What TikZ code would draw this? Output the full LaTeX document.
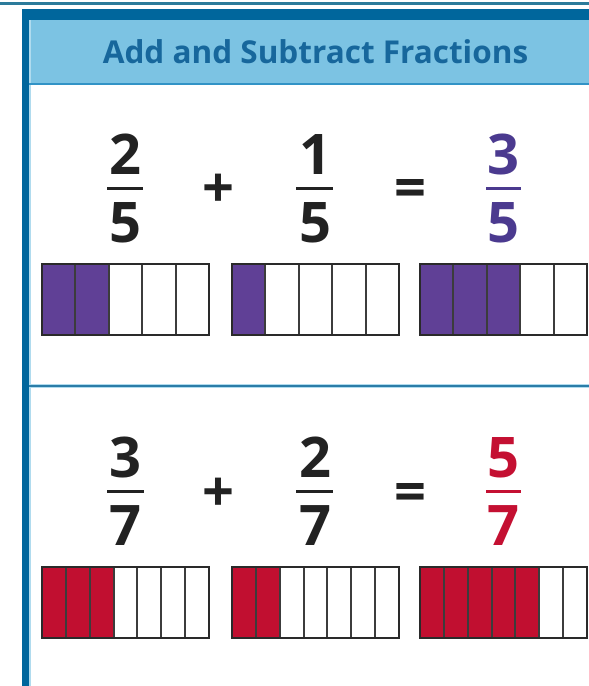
\documentclass[tikz,border=0pt]{standalone}
\usepackage{fontspec}
\setmainfont{Open Sans}
\definecolor{topline}{HTML}{2C7B9B}
\definecolor{darkblue}{HTML}{00669C}
\definecolor{headblue}{HTML}{7CC3E3}
\definecolor{midblue}{HTML}{3293C6}
\definecolor{titleblue}{HTML}{17679C}
\definecolor{digitdark}{HTML}{222222}
\definecolor{purpfill}{HTML}{604096}
\definecolor{purptext}{HTML}{4B3A8F}
\definecolor{redfill}{HTML}{C10F30}
\definecolor{redtext}{HTML}{C41032}
\definecolor{cellgray}{HTML}{3C3C3C}
\definecolor{outergray}{HTML}{2A2A2A}
\newcommand\drawbar[5]{%
  \fill[#5] (#1,#2) rectangle (#1+167*#4/#3,#2+71);
  \foreach \i in {2,...,#3}{%
    \pgfmathsetmacro\xa{#1+(\i-1)*167/#3}%
    \draw[cellline] (\xa,#2) -- (\xa,#2+71);
  }%
  \draw[outerline] (#1,#2) rectangle (#1+167,#2+71);
}
\begin{document}
\begin{tikzpicture}[x=1pt,y=-1pt,
  cellline/.style={draw=cellgray, line width=2pt},
  outerline/.style={draw=outergray, line width=2.8pt},
  digit/.style={font=\bfseries\fontsize{56}{60}\selectfont, anchor=base, inner sep=0pt},
  opsign/.style={font=\bfseries\fontsize{56}{60}\selectfont, anchor=base, inner sep=0pt, text=digitdark},
  fracline/.style={line width=3pt}]
\useasboundingbox (0,0) rectangle (589,686);
\fill[white] (0,0) rectangle (589,686);
% frame
\draw[topline, line width=3pt] (0,3.5) -- (589,3.5);
\fill[headblue] (29,20) rectangle (589,83);
\fill[darkblue] (22,9) rectangle (589,20);
\fill[darkblue] (22,9) rectangle (29,686);
\fill[headblue!60] (29,20) rectangle (30.5,686);
\draw[midblue, line width=2.5pt] (29,84) -- (589,84);
\draw[headblue!60, line width=4pt] (29,385.5) -- (589,385.5);
\draw[midblue!85!black, line width=2pt] (29,385.5) -- (589,385.5);
\node[font=\bfseries\fontsize{31.5}{33}\selectfont, text=titleblue, anchor=base] (title) at (315.5,63) {Add and Subtract Fractions};
% row 1
\node[digit, text=digitdark] (a1n) at (125,174) {2};
\node[digit, text=digitdark] (a1d) at (125,242) {5};
\draw[fracline, digitdark] (107,188.5) -- (143,188.5);
\node[opsign] (plus1) at (218,207) {+};
\node[digit, text=digitdark] (b1n) at (315,174) {1};
\node[digit, text=digitdark] (b1d) at (315,242) {5};
\draw[fracline, digitdark] (296,188.5) -- (333,188.5);
\node[opsign] (eq1) at (410,207) {=};
\node[digit, text=purptext] (c1n) at (503,174) {3};
\node[digit, text=purptext] (c1d) at (503,242) {5};
\draw[fracline, purptext] (486,188.5) -- (521,188.5);
\drawbar{42}{264}{5}{2}{purpfill}
\drawbar{232}{264}{5}{1}{purpfill}
\drawbar{420}{264}{5}{3}{purpfill}
% row 2
\node[digit, text=digitdark] (a2n) at (125,477) {3};
\node[digit, text=digitdark] (a2d) at (125,545) {7};
\draw[fracline, digitdark] (107,491.5) -- (144,491.5);
\node[opsign] (plus2) at (218,511) {+};
\node[digit, text=digitdark] (b2n) at (315,477) {2};
\node[digit, text=digitdark] (b2d) at (315,545) {7};
\draw[fracline, digitdark] (296,491.5) -- (333,491.5);
\node[opsign] (eq2) at (410,511) {=};
\node[digit, text=redtext] (c2n) at (503,477) {5};
\node[digit, text=redtext] (c2d) at (503,545) {7};
\draw[fracline, redtext] (486,491.5) -- (521,491.5);
\drawbar{42}{567}{7}{3}{redfill}
\drawbar{232}{567}{7}{2}{redfill}
\drawbar{420}{567}{7}{5}{redfill}
\end{tikzpicture}
\end{document}
